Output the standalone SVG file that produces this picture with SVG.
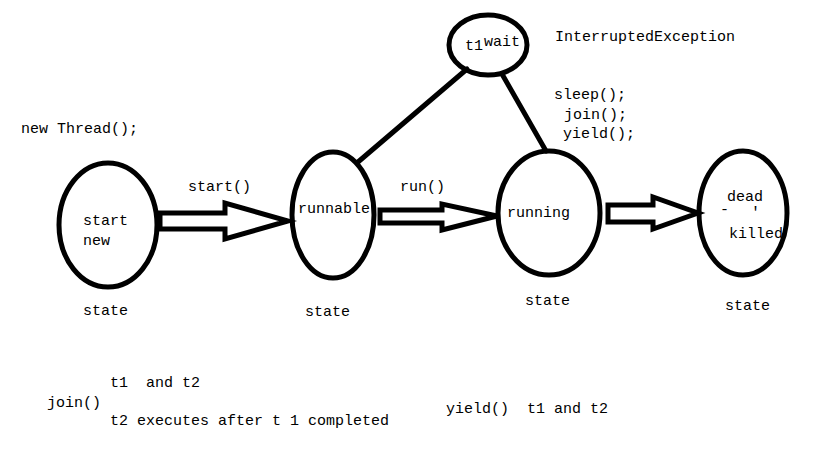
<svg xmlns="http://www.w3.org/2000/svg" width="819" height="460" viewBox="0 0 819 460">
<style>
.n{fill:none;stroke:#000;stroke-width:5}
.c{fill:none;stroke:#000;stroke-width:5;stroke-linecap:round}
.a{fill:#fff;stroke:#000;stroke-width:5;stroke-linejoin:miter}
text{font-family:"Liberation Mono","DejaVu Sans Mono",monospace;font-size:15px;fill:#000;white-space:pre}
</style>
<rect width="819" height="460" fill="#fff"/>
<g id="connectors">
<line class="c" x1="467" y1="69" x2="358" y2="162"/>
<line class="c" x1="502" y1="74" x2="546" y2="151"/>
<polygon class="a" points="160,213 225,213 225,203 288,221 225,239 225,229 160,229"/>
<polygon class="a" points="380,210 442,210 442,204 497,216 442,230 442,223 380,223"/>
<polygon class="a" points="608,205 653,205 653,197 698,213 653,229 653,222 608,222"/>
<text x="188" y="191">start()</text>
<text x="400" y="191">run()</text>
</g>
<g id="node-new">
<ellipse class="n" cx="108" cy="225" rx="49" ry="62"/>
<text x="83" y="225">start</text>
<text x="83" y="245">new</text>
<text x="83" y="315">state</text>
</g>
<g id="node-runnable">
<ellipse class="n" cx="333" cy="215" rx="41" ry="63"/>
<text x="298" y="213">runnable</text>
<text x="305" y="316">state</text>
</g>
<g id="node-running">
<ellipse class="n" cx="549" cy="213" rx="51" ry="62"/>
<text x="507" y="217">running</text>
<text x="525" y="305">state</text>
</g>
<g id="node-dead">
<ellipse class="n" cx="743" cy="213" rx="44" ry="62"/>
<text x="727" y="201">dead</text>
<text x="720" y="214" font-size="9">-</text>
<text x="751" y="217" font-size="9">'</text>
<text x="729" y="238">killed</text>
<text x="725" y="310">state</text>
</g>
<g id="node-wait">
<ellipse class="n" cx="488" cy="45" rx="39" ry="30"/>
<text x="465" y="50">t1</text>
<text x="484" y="46">wait</text>
</g>
<g id="labels">
<text x="21" y="133">new Thread();</text>
<text x="555" y="41">InterruptedException</text>
<text x="554" y="99">sleep();</text>
<text x="564" y="119">join();</text>
<text x="563" y="138">yield();</text>
<text x="110" y="387" xml:space="preserve">t1  and t2</text>
<text x="47" y="407">join()</text>
<text x="110" y="425">t2 executes after t 1 completed</text>
<text x="446" y="413" xml:space="preserve">yield()  t1 and t2</text>
</g>
</svg>
